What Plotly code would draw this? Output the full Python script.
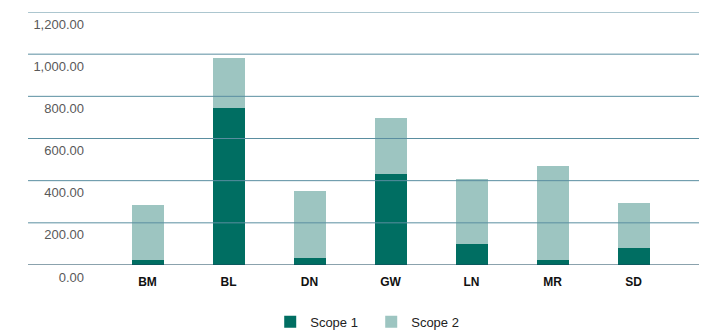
import plotly.graph_objects as go

# Emissions by site, split into Scope 1 and Scope 2
sites = ["BM", "BL", "DN", "GW", "LN", "MR", "SD"]
scope1 = [25, 743, 33, 432, 102, 22, 82]
scope2 = [260, 237, 319, 266, 306, 448, 213]

y_ticks = [0, 200, 400, 600, 800, 1000, 1200]
y_tick_labels = [f"{v:,.2f}" for v in y_ticks]

SCOPE1_COLOR = "#006e62"
SCOPE2_COLOR = "#9dc5c1"
GRID_COLOR = "#5a8ea0"
AXIS_COLOR = "#16455a"
FONT = "Liberation Sans, Arial, sans-serif"

fig = go.Figure()
fig.add_trace(go.Bar(name="Scope 1", x=sites, y=scope1, marker=dict(color=SCOPE1_COLOR, line=dict(width=0))))
fig.add_trace(go.Bar(name="Scope 2", x=sites, y=scope2, marker=dict(color=SCOPE2_COLOR, line=dict(width=0))))

# Horizontal rules drawn over the bars, extending past the plot area
grid_x0, grid_x1 = -0.1393, 1.0441
for v in y_ticks:
    fig.add_shape(
        type="line", xref="paper", yref="y",
        x0=grid_x0, x1=grid_x1, y0=v, y1=v,
        line=dict(color=AXIS_COLOR if v == 0 else GRID_COLOR, width=1),
        layer="above",
    )

fig.update_layout(
    width=715, height=332,
    margin=dict(l=107, r=41, t=12, b=67, autoexpand=False),
    paper_bgcolor="white", plot_bgcolor="white",
    barmode="stack", bargap=0.605,
    font=dict(family=FONT, size=12, color="#333333"),
    showlegend=True,
    legend=dict(
        orientation="h", x=0.466, xanchor="center", y=-0.165, yanchor="top",
        font=dict(size=13, color="#222222"), itemwidth=30,
        entrywidth=56, traceorder="normal",
    ),
    xaxis=dict(
        showgrid=False, showline=False, zeroline=False, ticks="",
        tickfont=dict(family=FONT, size=12, color="#111111", weight="bold"),
        ticklabelstandoff=8,
    ),
    yaxis=dict(
        range=[0, 1200], showgrid=False, showline=False, zeroline=False, ticks="",
        tickvals=y_ticks, ticktext=y_tick_labels,
        tickfont=dict(family=FONT, size=13, color="#595959"),
        ticklabelstandoff=22, ticklabelshift=12,
    ),
)

fig.write_html("out.html")
